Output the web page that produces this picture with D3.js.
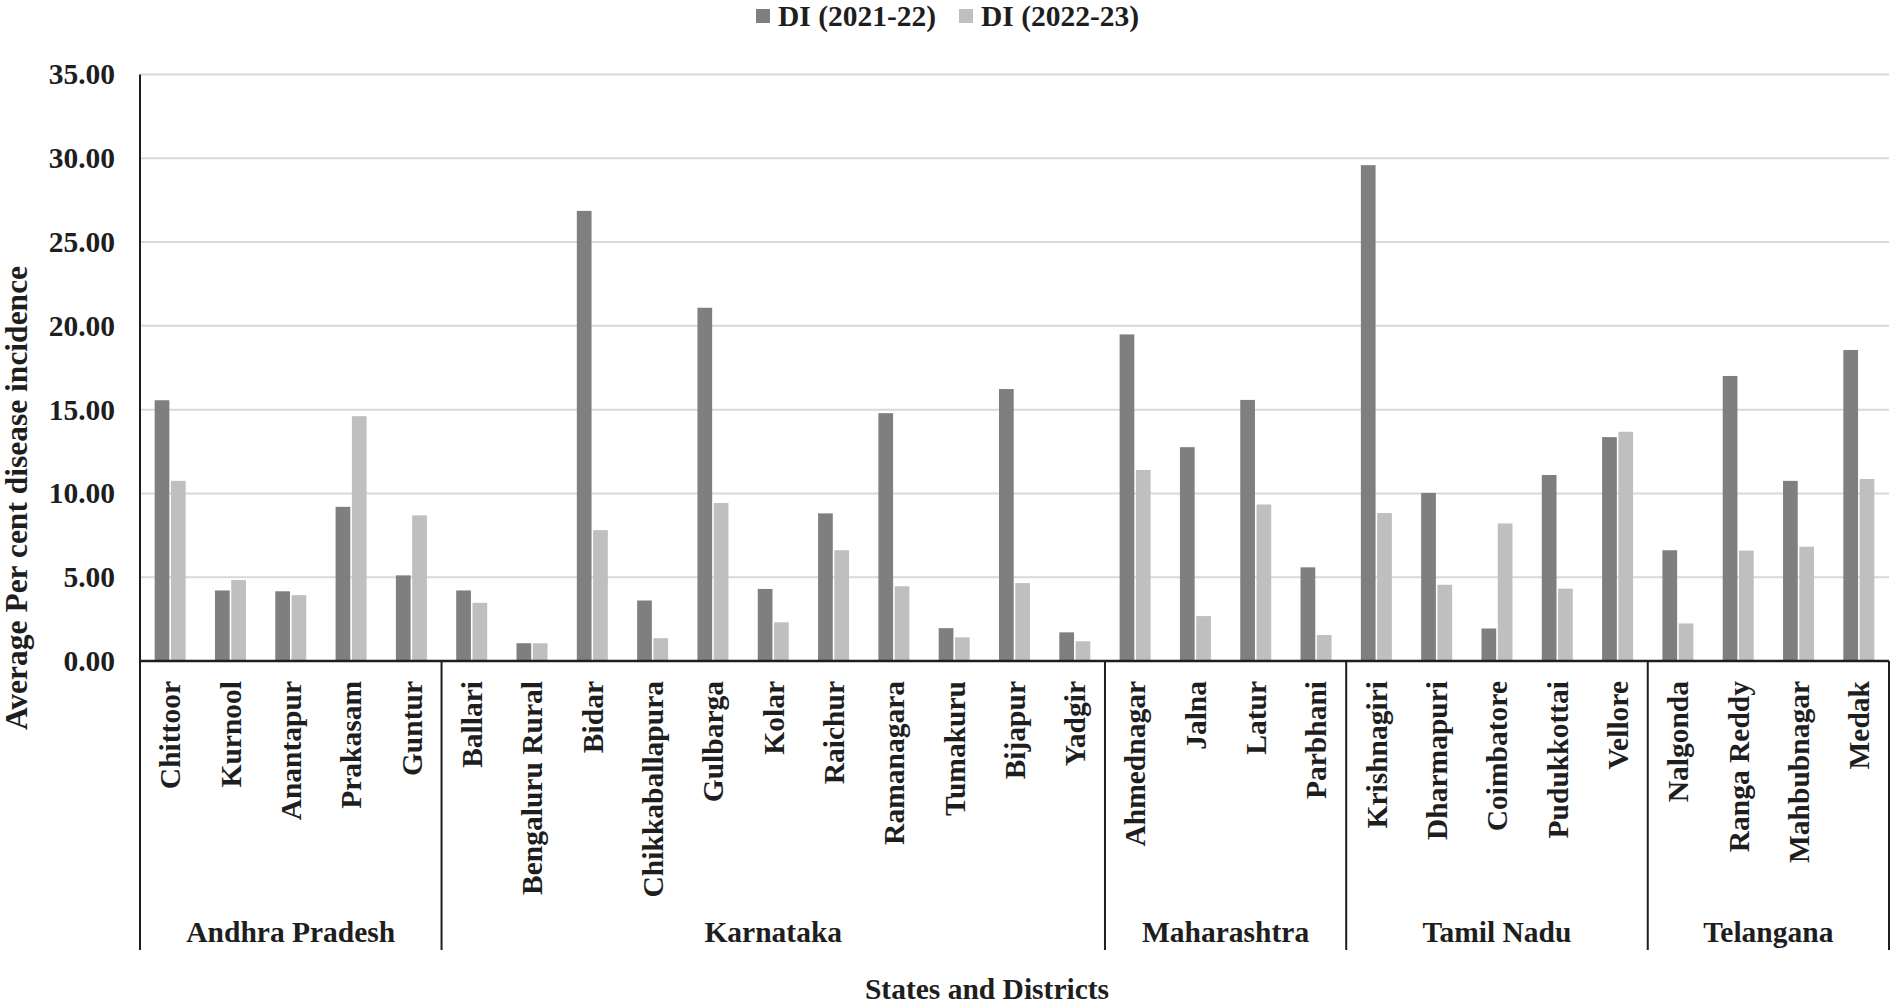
<!DOCTYPE html>
<html>
<head>
<meta charset="utf-8">
<script src="https://cdn.jsdelivr.net/npm/d3@7"></script>
<style>
  html, body { margin: 0; padding: 0; background: #fff; }
  svg { display: block; }
  text { font-family: "Liberation Serif", "Times New Roman", serif; font-weight: bold; fill: #1e1e1e; }
</style>
</head>
<body>
<svg id="chart" width="1892" height="1008"></svg>
<script>
// ---- data ----
const states = ["Andhra Pradesh", "Karnataka", "Maharashtra", "Tamil Nadu", "Telangana"];
const stateCounts = [5, 11, 4, 5, 4];
const districts = [
  "Chittoor", "Kurnool", "Anantapur", "Prakasam", "Guntur",
  "Ballari", "Bengaluru Rural", "Bidar", "Chikkaballapura", "Gulbarga", "Kolar",
  "Raichur", "Ramanagara", "Tumakuru", "Bijapur", "Yadgir",
  "Ahmednagar", "Jalna", "Latur", "Parbhani",
  "Krishnagiri", "Dharmapuri", "Coimbatore", "Pudukkottai", "Vellore",
  "Nalgonda", "Ranga Reddy", "Mahbubnagar", "Medak"
];
const di2122 = [
  15.56, 4.21, 4.16, 9.20, 5.11,
  4.21, 1.06, 26.86, 3.61, 21.08, 4.30, 8.81, 14.79, 1.96, 16.23, 1.71,
  19.49, 12.76, 15.58, 5.59,
  29.59, 10.03, 1.94, 11.10, 13.36,
  6.61, 17.01, 10.75, 18.56
];
const di2223 = [
  10.75, 4.83, 3.93, 14.61, 8.69,
  3.47, 1.06, 7.81, 1.36, 9.43, 2.31, 6.61, 4.46, 1.41, 4.65, 1.18,
  11.40, 2.68, 9.34, 1.55,
  8.83, 4.55, 8.21, 4.32, 13.68,
  2.24, 6.59, 6.82, 10.86
];
const seriesNames = ["DI (2021-22)", "DI (2022-23)"];
const yTicks = [0, 5, 10, 15, 20, 25, 30, 35];
const yTitle = "Average Per cent disease incidence";
const xTitle = "States and Districts";

// ---- layout ----
const colors = ["#7f7f7f", "#bfbfbf"];
const plotL = 140, plotR = 1889, plotT = 74.5, plotB = 661;
const fs = "29.5px";
const svg = d3.select("#chart");

const x = d3.scaleBand().domain(districts).range([plotL, plotR]).paddingInner(0).paddingOuter(0);
const y = d3.scaleLinear().domain([0, 35]).range([plotB, plotT]);
const barW = 14, gap = 3;
const xs = d3.scaleBand().domain(seriesNames).range([0, barW * 2 + gap]).paddingInner(gap / (barW * 2 + gap));

// gridlines
svg.append("g").selectAll("line").data(yTicks.filter(d => d > 0)).join("line")
  .attr("x1", plotL).attr("x2", plotR)
  .attr("y1", d => y(d)).attr("y2", d => y(d))
  .attr("stroke", "#d9d9d9").attr("stroke-width", 2);

// y axis tick labels
const yAxis = d3.axisLeft(y).tickValues(yTicks).tickFormat(d3.format(".2f")).tickSize(0).tickPadding(25);
const gy = svg.append("g").attr("transform", `translate(${plotL},0)`).call(yAxis);
gy.select(".domain").remove();
gy.selectAll("text").style("font-size", fs).attr("fill", "#1e1e1e")
  .style("font-family", '"Liberation Serif", "Times New Roman", serif').style("font-weight", "bold");

// bars
const rows = districts.map((d, i) => ({ d, vals: [di2122[i], di2223[i]] }));
const groupOffset = (x.bandwidth() - (barW * 2 + gap)) / 2;
const gBars = svg.append("g");
rows.forEach(r => {
  r.vals.forEach((v, k) => {
    gBars.append("rect")
      .attr("x", x(r.d) + groupOffset + xs(seriesNames[k]))
      .attr("y", y(v))
      .attr("width", xs.bandwidth())
      .attr("height", y(0) - y(v))
      .attr("fill", colors[k]);
  });
});

// axes lines
const sepBottom = 950;
svg.append("line").attr("x1", plotL).attr("x2", plotL).attr("y1", plotT).attr("y2", sepBottom)
  .attr("stroke", "#1e1e1e").attr("stroke-width", 2);
svg.append("line").attr("x1", plotL).attr("x2", plotR).attr("y1", plotB).attr("y2", plotB)
  .attr("stroke", "#1e1e1e").attr("stroke-width", 2.5);

// group separators
let idx = 0;
const bounds = [0];
stateCounts.forEach(c => { idx += c; bounds.push(idx); });
svg.append("g").selectAll("line").data(bounds.slice(1)).join("line")
  .attr("x1", b => b < districts.length ? x(districts[b]) : plotR)
  .attr("x2", b => b < districts.length ? x(districts[b]) : plotR)
  .attr("y1", plotB).attr("y2", sepBottom)
  .attr("stroke", "#1e1e1e").attr("stroke-width", 2);

// district labels
svg.append("g").selectAll("text").data(districts).join("text")
  .attr("transform", d => `translate(${x(d) + x.bandwidth() / 2},681) rotate(-90)`)
  .attr("text-anchor", "end").attr("dy", "0.35em")
  .style("font-size", fs)
  .text(d => d);

// state labels
svg.append("g").selectAll("text").data(states).join("text")
  .attr("x", (s, i) => {
    const a = bounds[i], b = bounds[i + 1];
    const x0 = x(districts[a]);
    const x1 = b < districts.length ? x(districts[b]) : plotR;
    return (x0 + x1) / 2;
  })
  .attr("y", 942).attr("text-anchor", "middle")
  .style("font-size", fs)
  .text(s => s);

// axis titles
svg.append("text").attr("transform", "translate(27,498) rotate(-90)")
  .attr("text-anchor", "middle").style("font-size", "31.5px").text(yTitle);
svg.append("text").attr("x", 987).attr("y", 999).attr("text-anchor", "middle")
  .style("font-size", fs).text(xTitle);

// legend
const legend = svg.append("g");
const legX = [756, 959];
seriesNames.forEach((n, k) => {
  legend.append("rect").attr("x", legX[k]).attr("y", 9).attr("width", 14).attr("height", 14).attr("fill", colors[k]);
  legend.append("text").attr("x", legX[k] + 22).attr("y", 26).style("font-size", fs).text(n);
});
</script>
</body>
</html>
